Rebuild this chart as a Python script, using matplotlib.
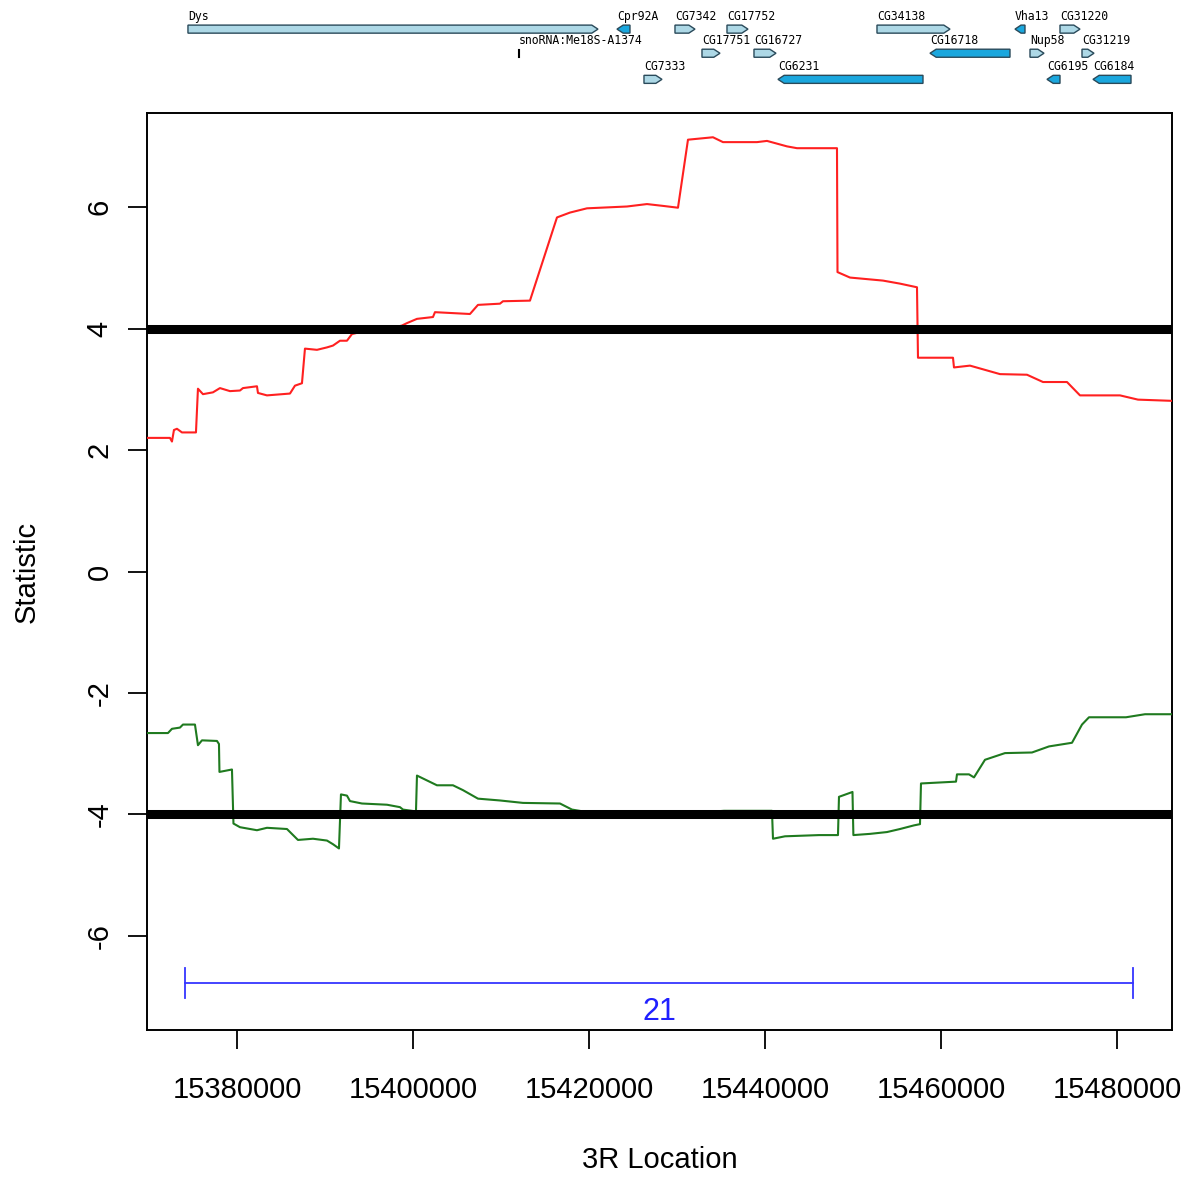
import numpy as np
import matplotlib
matplotlib.use("Agg")
import matplotlib.pyplot as plt
from matplotlib.patches import Polygon

plt.rcParams["axes.unicode_minus"] = False

# red statistic trace (3R position, value)
red_pos = [15369773, 15372386, 15372614, 15372841, 15373182, 15373750, 15375341, 15375568,
           15376136, 15377273, 15378068, 15379205, 15380341, 15380682, 15382273, 15382386,
           15383409, 15386023, 15386591, 15387386, 15387727, 15389091, 15390227, 15390909,
           15391705, 15392500, 15393068, 15395114, 15397386, 15398750, 15399318, 15400455,
           15402273, 15402500, 15406477, 15407386, 15409886, 15410227, 15413295, 15416364,
           15417841, 15419773, 15424318, 15426591, 15428409, 15430114, 15431250, 15434091,
           15435227, 15439091, 15440227, 15442500, 15443636, 15448182, 15448240, 15449659,
           15453409, 15455341, 15457273, 15457386, 15461364, 15461477, 15463295, 15466705,
           15469773, 15471591, 15474318, 15475795, 15480341, 15482386, 15486250]
red_val = [2.20, 2.20, 2.14, 2.33, 2.35, 2.29, 2.29, 3.01,
           2.92, 2.95, 3.02, 2.97, 2.98, 3.02, 3.05, 2.94,
           2.90, 2.93, 3.06, 3.10, 3.67, 3.65, 3.69, 3.72,
           3.80, 3.80, 3.91, 3.98, 4.00, 4.05, 4.09, 4.16,
           4.19, 4.27, 4.24, 4.39, 4.41, 4.45, 4.46, 5.83,
           5.91, 5.98, 6.01, 6.05, 6.02, 5.99, 7.11, 7.15,
           7.07, 7.07, 7.09, 7.00, 6.97, 6.97, 4.93, 4.84,
           4.79, 4.74, 4.68, 3.52, 3.52, 3.36, 3.39, 3.25,
           3.24, 3.12, 3.12, 2.90, 2.90, 2.83, 2.81]

# green statistic trace
green_pos = [15369773, 15372159, 15372614, 15373523, 15373864, 15375227, 15375568, 15376023,
             15377727, 15377955, 15378011, 15379432, 15379602, 15380341, 15382273, 15383409,
             15385682, 15386932, 15388636, 15390227, 15390909, 15391591, 15391818, 15392500,
             15392841, 15394205, 15397045, 15398523, 15398864, 15400341, 15400455, 15401591,
             15402727, 15404545, 15405682, 15407386, 15409886, 15412500, 15416705, 15418068,
             15419318, 15426932, 15432614, 15435341, 15440795, 15440909, 15442273, 15446136,
             15448295, 15448409, 15449943, 15450045, 15451932, 15453864, 15455341, 15456932,
             15457614, 15457727, 15461705, 15461818, 15463182, 15463750, 15465000, 15467273,
             15470341, 15472273, 15474886, 15476023, 15476818, 15481023, 15483182, 15486250]
green_val = [-2.66, -2.66, -2.59, -2.57, -2.52, -2.52, -2.86, -2.78,
             -2.79, -2.84, -3.30, -3.26, -4.15, -4.21, -4.26, -4.22,
             -4.24, -4.42, -4.40, -4.43, -4.49, -4.56, -3.67, -3.69,
             -3.78, -3.82, -3.84, -3.88, -3.92, -3.95, -3.36, -3.44,
             -3.52, -3.52, -3.60, -3.74, -3.77, -3.81, -3.82, -3.92,
             -3.95, -3.98, -3.97, -3.94, -3.94, -4.40, -4.36, -4.34,
             -4.34, -3.71, -3.63, -4.34, -4.32, -4.29, -4.24, -4.18,
             -4.16, -3.49, -3.46, -3.34, -3.34, -3.39, -3.10, -2.99,
             -2.98, -2.88, -2.82, -2.52, -2.40, -2.40, -2.35, -2.35]

thresholds = [4, -4]

interval_start = 15374100
interval_end = 15481800
interval_label = "21"

# gene track
gene_names = ["Dys", "Cpr92A", "CG7342", "CG17752", "CG34138", "Vha13", "CG31220",
              "CG17751", "CG16727", "CG16718", "Nup58", "CG31219",
              "CG7333", "CG6231", "CG6195", "CG6184"]
gene_start = [15374432, 15423182, 15429773, 15435682, 15452727, 15468409, 15473523,
              15432841, 15438750, 15458750, 15470114, 15476023,
              15426250, 15441477, 15472045, 15477273]
gene_end = [15421023, 15424659, 15432045, 15438068, 15461023, 15469545, 15475795,
            15434886, 15441250, 15467841, 15471705, 15477386,
            15428295, 15457955, 15473523, 15481591]
gene_strand = ["+", "-", "+", "+", "+", "-", "+",
               "+", "+", "-", "+", "+",
               "+", "-", "-", "-"]
gene_row = [1, 1, 1, 1, 1, 1, 1,
            2, 2, 2, 2, 2,
            3, 3, 3, 3]
sno_name = "snoRNA:Me18S-A1374"
sno_pos = 15412045
sno_row = 2

xlim = (15369773, 15486250)
ylim = (-7.55, 7.55)

fig = plt.figure(figsize=(11.89, 11.78), dpi=100)
ax = fig.add_axes([0.1236, 0.1256, 0.8621, 0.7785])

ax.plot(red_pos, red_val, color="#ff2020", lw=1.5, zorder=3)
ax.plot(green_pos, green_val, color="#1f7a1f", lw=1.5, zorder=3)
for t in thresholds:
    ax.axhline(t, color="black", lw=6.5, zorder=4)

iv_y = -6.78
ax.plot([interval_start, interval_end], [iv_y, iv_y], color="#3535ff", lw=1.3)
ax.plot([interval_start, interval_start], [iv_y - 0.25, iv_y + 0.25], color="#3535ff", lw=1.3)
ax.plot([interval_end, interval_end], [iv_y - 0.25, iv_y + 0.25], color="#3535ff", lw=1.3)
ax.text((interval_start + interval_end) / 2, -7.25, interval_label, color="#2020ff",
        fontsize=22, ha="center", va="center", family="Liberation Sans")

ax.set_xlim(*xlim)
ax.set_ylim(*ylim)
ax.set_xticks([15380000, 15400000, 15420000, 15440000, 15460000, 15480000])
ax.set_xticklabels(["15380000", "15400000", "15420000", "15440000", "15460000", "15480000"])
ax.set_yticks([-6, -4, -2, 0, 2, 4, 6])
ax.set_yticklabels(["-6", "-4", "-2", "0", "2", "4", "6"])
for lab in ax.get_yticklabels():
    lab.set_rotation(90)
    lab.set_va("center")
ax.tick_params(axis="x", length=14, width=1.3, pad=19, labelsize=21)
ax.tick_params(axis="y", length=14, width=1.3, pad=10, labelsize=21)
for lab in ax.get_xticklabels() + ax.get_yticklabels():
    lab.set_family("Liberation Sans")
for s in ax.spines.values():
    s.set_linewidth(1.4)
ax.set_xlabel("3R Location", fontsize=21, family="Liberation Sans", labelpad=30)
ax.set_ylabel("Statistic", fontsize=21, family="Liberation Sans", labelpad=32)

# gene track on top, pixel-like rows
gax = fig.add_axes([0.1236, 0.919, 0.8621, 0.081])
gax.set_xlim(*xlim)
gax.set_ylim(95, 0)
gax.axis("off")
row_y = {1: 29, 2: 53, 3: 79}
half_h = 4
head = 700
for name, s, e, st, r in zip(gene_names, gene_start, gene_end, gene_strand, gene_row):
    yc = row_y[r]
    hl = min(head, (e - s) * 0.6)
    if st == "+":
        pts = [(s, yc - half_h), (e - hl, yc - half_h), (e, yc), (e - hl, yc + half_h), (s, yc + half_h)]
        fc = "#add8e6"
    else:
        pts = [(e, yc - half_h), (s + hl, yc - half_h), (s, yc), (s + hl, yc + half_h), (e, yc + half_h)]
        fc = "#1aa7de"
    gax.add_patch(Polygon(pts, closed=True, facecolor=fc, edgecolor="#2a4a5a", lw=1.0))
    gax.text(s, yc - 13, name, fontsize=8.3, family="DejaVu Sans Mono", ha="left", va="center")
yc = row_y[sno_row]
gax.plot([sno_pos, sno_pos], [yc - 3, yc + 4], color="black", lw=1.5)
gax.text(sno_pos, yc - 13, sno_name, fontsize=8.3, family="DejaVu Sans Mono", ha="left", va="center")

fig.savefig("out.png", dpi=100)
